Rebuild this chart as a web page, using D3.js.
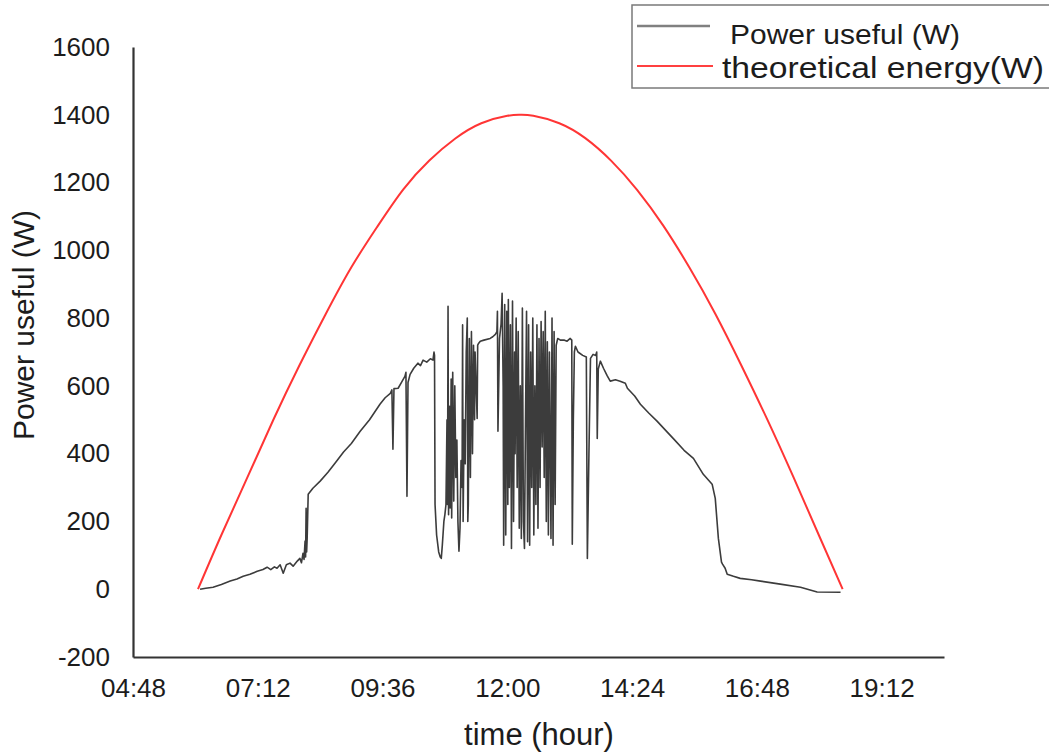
<!DOCTYPE html>
<html>
<head>
<meta charset="utf-8">
<script src="https://cdn.jsdelivr.net/npm/d3@7"></script>
<style>
  body { margin: 0; background: #fff; }
  svg { display: block; }
  text { font-family: "Liberation Sans", Arial, sans-serif; fill: #1c1c1c; }
</style>
</head>
<body>
<svg id="chart" width="1049" height="752"></svg>
<script>
// ---------------- data (hours of day, watts) ----------------
const xTickLabels = ["04:48", "07:12", "09:36", "12:00", "14:24", "16:48", "19:12"];
const yTickValues = [-200, 0, 200, 400, 600, 800, 1000, 1200, 1400, 1600];
const seriesNames = ["Power useful (W)", "theoretical energy(W)"];

const theoreticalEnergy = [
  [6.05, 0], [6.5, 160], [7.0, 330], [7.5, 500], [8.0, 660], [8.5, 810], [9.0, 950],
  [9.5, 1070], [10.0, 1180], [10.5, 1265], [11.0, 1330], [11.5, 1375], [12.0, 1397],
  [12.25, 1400], [12.5, 1397], [13.0, 1375], [13.5, 1331], [14.0, 1264], [14.5, 1178],
  [15.0, 1073], [15.5, 950], [16.0, 813], [16.5, 661], [17.0, 501], [17.5, 332],
  [18.0, 157], [18.45, 0]
];

const powerUseful = [
  [6.09, 0], [6.20, 3], [6.34, 6], [6.50, 14], [6.67, 24], [6.80, 30], [6.92, 38], [7.05, 44],
  [7.19, 53], [7.30, 58], [7.38, 65], [7.45, 58], [7.52, 66], [7.57, 62], [7.63, 72], [7.69, 47],
  [7.75, 72], [7.82, 77], [7.88, 68], [7.96, 83], [8.01, 91], [8.04, 78], [8.07, 106], [8.09, 88],
  [8.11, 142], [8.12, 95], [8.13, 239], [8.14, 110], [8.15, 150], [8.17, 280], [8.26, 298],
  [8.40, 319], [8.55, 345], [8.70, 375], [8.85, 405], [9.00, 430], [9.17, 466], [9.35, 500],
  [9.55, 546], [9.65, 565], [9.75, 578], [9.78, 588], [9.80, 413], [9.82, 592], [9.90, 593],
  [9.97, 612], [10.03, 628], [10.05, 640], [10.07, 274], [10.09, 610], [10.13, 634], [10.20, 652],
  [10.28, 667], [10.33, 660], [10.38, 676], [10.45, 670], [10.52, 680], [10.57, 676], [10.59, 700],
  [10.60, 690], [10.61, 250], [10.64, 160], [10.68, 110], [10.71, 95], [10.73, 91], [10.75, 130],
  [10.78, 200], [10.80, 221], [10.82, 250], [10.84, 500], [10.85, 250], [10.86, 835], [10.87, 220],
  [10.89, 540], [10.90, 240], [10.92, 620], [10.93, 210], [10.95, 640], [10.97, 260], [10.99, 600],
  [11.01, 330], [11.03, 440], [11.05, 200], [11.07, 112], [11.09, 180], [11.11, 380], [11.13, 300],
  [11.14, 780], [11.15, 200], [11.17, 500], [11.19, 370], [11.21, 700], [11.23, 800], [11.24, 200],
  [11.25, 250], [11.27, 740], [11.29, 330], [11.31, 760], [11.33, 400], [11.35, 720], [11.37, 500],
  [11.38, 700], [11.40, 600], [11.42, 504], [11.43, 720], [11.45, 726], [11.48, 732], [11.55, 735],
  [11.67, 740], [11.72, 745], [11.77, 752], [11.80, 760], [11.81, 820], [11.82, 466], [11.85, 740],
  [11.88, 782], [11.90, 873], [11.92, 600], [11.93, 130], [11.95, 840], [11.97, 160], [11.99, 820],
  [12.01, 250], [12.02, 855], [12.04, 300], [12.06, 780], [12.08, 120], [12.10, 850], [12.12, 200],
  [12.14, 700], [12.15, 400], [12.17, 800], [12.19, 300], [12.21, 760], [12.23, 180], [12.25, 600],
  [12.27, 150], [12.29, 830], [12.31, 200], [12.33, 120], [12.35, 500], [12.37, 820], [12.39, 140],
  [12.41, 780], [12.43, 130], [12.45, 700], [12.47, 300], [12.49, 800], [12.51, 160], [12.53, 600],
  [12.55, 250], [12.57, 780], [12.59, 180], [12.61, 740], [12.63, 300], [12.65, 790], [12.67, 420],
  [12.69, 760], [12.71, 330], [12.73, 820], [12.75, 200], [12.77, 730], [12.79, 160], [12.81, 700],
  [12.84, 150], [12.86, 800], [12.88, 130], [12.90, 760], [12.92, 250], [12.94, 720], [12.97, 740],
  [13.02, 735], [13.10, 735], [13.15, 732], [13.21, 740], [13.24, 735], [13.25, 133], [13.27, 500],
  [13.29, 700], [13.31, 717], [13.36, 700], [13.45, 690], [13.52, 685], [13.54, 91], [13.57, 400],
  [13.60, 681], [13.65, 693], [13.70, 690], [13.72, 700], [13.73, 445], [13.75, 650], [13.79, 673],
  [13.85, 652], [13.92, 630], [13.98, 614], [14.08, 618], [14.17, 614], [14.27, 608], [14.31, 593],
  [14.45, 570], [14.56, 546], [14.72, 520], [14.88, 496], [15.05, 468], [15.19, 445], [15.40, 410],
  [15.58, 386], [15.77, 339], [15.94, 310], [16.00, 268], [16.06, 150], [16.12, 80], [16.14, 74],
  [16.19, 62], [16.23, 44], [16.35, 38], [16.48, 32], [16.70, 28], [16.87, 24], [17.25, 15],
  [17.64, 6], [17.96, -8], [18.41, -9]
];

// ---------------- chart ----------------
const svg = d3.select("#chart");
const margin = { left: 133, right: 105, top: 47, bottom: 95 };
const W = 1049, H = 752;

const x = d3.scaleLinear().domain([4.8, 20.4]).range([margin.left, W - margin.right]);
const y = d3.scaleLinear().domain([-200, 1600]).range([H - margin.bottom, margin.top]);

const toHours = s => { const [h, m] = s.split(":").map(Number); return h + m / 60; };
const xTickValues = xTickLabels.map(toHours);
const fmt = d => xTickLabels[xTickValues.findIndex(v => Math.abs(v - d) < 1e-6)];

// axes
const xAxis = d3.axisBottom(x).tickValues(xTickValues).tickFormat(fmt)
  .tickSize(0).tickSizeOuter(0).tickPadding(22);
const yAxis = d3.axisLeft(y).tickValues(yTickValues).tickFormat(d => String(d))
  .tickSize(0).tickSizeOuter(0).tickPadding(23);

const gx = svg.append("g").attr("transform", `translate(0,${y(-200)})`).call(xAxis);
const gy = svg.append("g").attr("transform", `translate(${x(4.8)},0)`).call(yAxis);
[gx, gy].forEach(g => {
  g.select(".domain").attr("stroke", "#333").attr("stroke-width", 2.2);
  g.selectAll("text").attr("font-size", 26).attr("fill", "#1c1c1c")
    .attr("font-family", "\"Liberation Sans\", Arial, sans-serif");
});

// axis titles
svg.append("text").attr("x", 539).attr("y", 745).attr("text-anchor", "middle")
  .attr("font-size", 31).text("time (hour)");
svg.append("text").attr("transform", "translate(34,325) rotate(-90)")
  .attr("text-anchor", "middle").attr("font-size", 30).text("Power useful (W)");

// lines
const line = d3.line().x(d => x(d[0])).y(d => y(d[1]));
svg.append("path").datum(theoreticalEnergy)
  .attr("d", line.curve(d3.curveNatural))
  .attr("fill", "none").attr("stroke", "#ff3535").attr("stroke-width", 2);
svg.append("path").datum(powerUseful)
  .attr("d", d3.line().x(d => x(d[0])).y(d => y(d[1]))(powerUseful))
  .attr("fill", "none").attr("stroke", "#3c3c3c").attr("stroke-width", 1.6)
  .attr("stroke-linejoin", "round");

// legend
const lg = svg.append("g");
lg.append("rect").attr("x", 632).attr("y", 5).attr("width", 440).attr("height", 83)
  .attr("fill", "#fff").attr("stroke", "#7a7a7a").attr("stroke-width", 1.5);
lg.append("line").attr("x1", 637).attr("x2", 710).attr("y1", 26).attr("y2", 26)
  .attr("stroke", "#808080").attr("stroke-width", 2.5);
lg.append("text").attr("x", 730).attr("y", 44).attr("font-size", 27).attr("fill", "#2a2a2a")
  .attr("textLength", 230).attr("lengthAdjust", "spacingAndGlyphs")
  .text(seriesNames[0]);
lg.append("line").attr("x1", 637).attr("x2", 713).attr("y1", 66).attr("y2", 66)
  .attr("stroke", "#ff4040").attr("stroke-width", 2);
lg.append("text").attr("x", 722).attr("y", 78).attr("font-size", 29).attr("fill", "#1c1c1c")
  .attr("textLength", 322).attr("lengthAdjust", "spacingAndGlyphs")
  .text(seriesNames[1]);
</script>
</body>
</html>
